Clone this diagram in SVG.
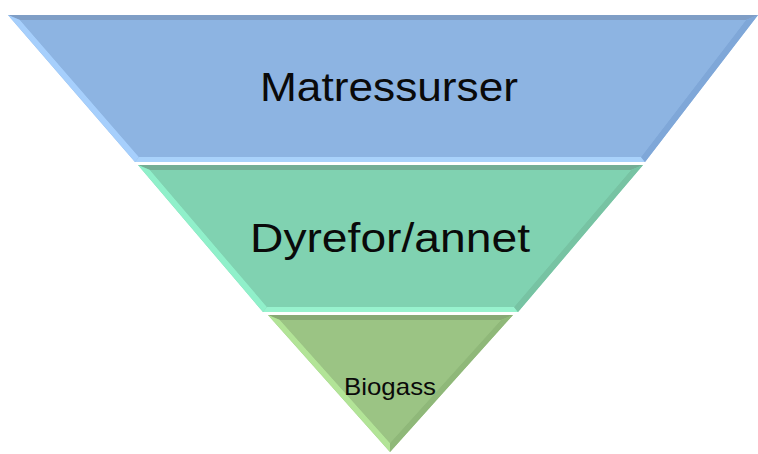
<svg xmlns="http://www.w3.org/2000/svg" width="758" height="454" viewBox="0 0 758 454">
  <style>
    .lbl { font-family: "Liberation Sans", Arial, sans-serif; fill: #0a0a0a; text-anchor: middle; }
  </style>
  <rect width="758" height="454" fill="#ffffff"/>
  <g id="band-matressurser">
    <polygon points="8,15 758,15 645,162 135,162" fill="#8db4e2"/>
    <polygon points="8,15 758,15 746,20 20,20" fill="#7f9ec6"/>
    <polygon points="8,15 20,20 139,157 135,162" fill="#a6cffc"/>
    <polygon points="135,162 139,157 641,157 645,162" fill="#a9d2fb"/>
    <polygon points="758,15 746,20 641,157 645,162" fill="#7fa7d8"/>
    <polygon points="20,20 746,20 641,157 139,157" fill="#8db4e2"/>
    <text class="lbl" x="389" y="101" font-size="40" textLength="258" lengthAdjust="spacingAndGlyphs">Matressurser</text>
  </g>
  <g id="band-dyrefor">
    <polygon points="138,165 643,165 518,312 263,312" fill="#80d2b1"/>
    <polygon points="138,165 643,165 631,170 150,170" fill="#74ae95"/>
    <polygon points="138,165 150,170 267,307 263,312" fill="#90f0ca"/>
    <polygon points="263,312 267,307 514,307 518,312" fill="#98f2ce"/>
    <polygon points="643,165 631,170 514,307 518,312" fill="#77c3a3"/>
    <polygon points="150,170 631,170 514,307 267,307" fill="#80d2b1"/>
    <text class="lbl" x="390" y="252" font-size="40" textLength="280" lengthAdjust="spacingAndGlyphs">Dyrefor/annet</text>
  </g>
  <g id="band-biogass">
    <polygon points="268,315 513,315 390,452" fill="#9bc484"/>
    <polygon points="268,315 513,315 501,320 280,320" fill="#88a975"/>
    <polygon points="268,315 280,320 390,443 390,452" fill="#b2e497"/>
    <polygon points="513,315 501,320 390,443 390,452" fill="#8fb879"/>
    <polygon points="280,320 501,320 390,443" fill="#9bc484"/>
    <text class="lbl" x="390" y="395" font-size="24" textLength="92" lengthAdjust="spacingAndGlyphs">Biogass</text>
  </g>
  <g id="connectors"/>
</svg>
